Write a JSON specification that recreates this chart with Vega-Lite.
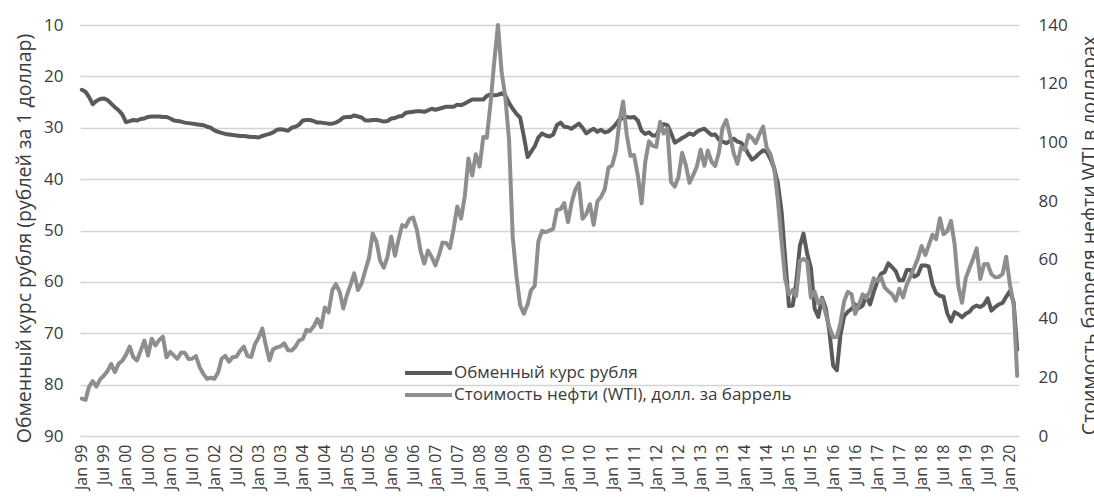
{
  "$schema": "https://vega.github.io/schema/vega-lite/v6.json",
  "width": 939,
  "height": 411,
  "autosize": {"type": "none"},
  "padding": {"left": 80, "top": 25, "right": 75, "bottom": 63},
  "background": "white",
  "config": {
    "font": "Open Sans",
    "view": {"stroke": null},
    "axis": {"labelFont": "Open Sans", "titleFont": "Open Sans", "labelColor": "#3b3b3b", "titleColor": "#3b3b3b", "titleFontWeight": "normal"},
    "legend": {"labelFont": "Open Sans", "labelColor": "#3b3b3b"}
  },
  "data": {"values": [
    {"d":"1999-01-01","r":22.6,"o":12.75},{"d":"1999-02-01","r":23.0,"o":12.27},{"d":"1999-03-01","r":24.0,"o":16.76},{"d":"1999-04-01","r":25.4,"o":18.66},{"d":"1999-05-01","r":24.8,"o":16.84},{"d":"1999-06-01","r":24.4,"o":19.29},{"d":"1999-07-01","r":24.3,"o":20.53},{"d":"1999-08-01","r":24.6,"o":22.10},{"d":"1999-09-01","r":25.3,"o":24.51},{"d":"1999-10-01","r":26.0,"o":21.75},{"d":"1999-11-01","r":26.6,"o":24.59},{"d":"1999-12-01","r":27.4,"o":25.60},
    {"d":"2000-01-01","r":28.9,"o":27.64},{"d":"2000-02-01","r":28.7,"o":30.43},{"d":"2000-03-01","r":28.5,"o":26.90},{"d":"2000-04-01","r":28.6,"o":25.74},{"d":"2000-05-01","r":28.3,"o":29.01},{"d":"2000-06-01","r":28.2,"o":32.50},{"d":"2000-07-01","r":27.9,"o":27.43},{"d":"2000-08-01","r":27.8,"o":33.12},{"d":"2000-09-01","r":27.8,"o":30.84},{"d":"2000-10-01","r":27.8,"o":32.70},{"d":"2000-11-01","r":27.9,"o":33.82},{"d":"2000-12-01","r":27.9,"o":26.80},
    {"d":"2001-01-01","r":28.2,"o":28.66},{"d":"2001-02-01","r":28.6,"o":27.39},{"d":"2001-03-01","r":28.7,"o":26.29},{"d":"2001-04-01","r":28.8,"o":28.46},{"d":"2001-05-01","r":29.0,"o":28.37},{"d":"2001-06-01","r":29.1,"o":26.25},{"d":"2001-07-01","r":29.2,"o":26.35},{"d":"2001-08-01","r":29.3,"o":27.20},{"d":"2001-09-01","r":29.4,"o":23.43},{"d":"2001-10-01","r":29.5,"o":21.18},{"d":"2001-11-01","r":29.8,"o":19.44},{"d":"2001-12-01","r":30.0,"o":19.84},
    {"d":"2002-01-01","r":30.5,"o":19.48},{"d":"2002-02-01","r":30.8,"o":21.74},{"d":"2002-03-01","r":31.0,"o":26.31},{"d":"2002-04-01","r":31.2,"o":27.29},{"d":"2002-05-01","r":31.3,"o":25.31},{"d":"2002-06-01","r":31.4,"o":26.86},{"d":"2002-07-01","r":31.5,"o":27.02},{"d":"2002-08-01","r":31.6,"o":28.98},{"d":"2002-09-01","r":31.6,"o":30.45},{"d":"2002-10-01","r":31.7,"o":27.22},{"d":"2002-11-01","r":31.8,"o":26.89},{"d":"2002-12-01","r":31.8,"o":31.20},
    {"d":"2003-01-01","r":31.9,"o":33.51},{"d":"2003-02-01","r":31.6,"o":36.60},{"d":"2003-03-01","r":31.4,"o":31.04},{"d":"2003-04-01","r":31.2,"o":25.80},{"d":"2003-05-01","r":30.9,"o":29.56},{"d":"2003-06-01","r":30.4,"o":30.19},{"d":"2003-07-01","r":30.3,"o":30.54},{"d":"2003-08-01","r":30.4,"o":31.57},{"d":"2003-09-01","r":30.6,"o":29.20},{"d":"2003-10-01","r":30.0,"o":29.11},{"d":"2003-11-01","r":29.8,"o":30.41},{"d":"2003-12-01","r":29.4,"o":32.52},
    {"d":"2004-01-01","r":28.6,"o":33.05},{"d":"2004-02-01","r":28.5,"o":36.16},{"d":"2004-03-01","r":28.5,"o":35.76},{"d":"2004-04-01","r":28.7,"o":37.38},{"d":"2004-05-01","r":29.0,"o":39.88},{"d":"2004-06-01","r":29.0,"o":37.05},{"d":"2004-07-01","r":29.1,"o":43.80},{"d":"2004-08-01","r":29.2,"o":42.12},{"d":"2004-09-01","r":29.2,"o":49.64},{"d":"2004-10-01","r":29.0,"o":51.76},{"d":"2004-11-01","r":28.6,"o":49.13},{"d":"2004-12-01","r":28.0,"o":43.45},
    {"d":"2005-01-01","r":27.9,"o":48.20},{"d":"2005-02-01","r":27.9,"o":51.75},{"d":"2005-03-01","r":27.6,"o":55.40},{"d":"2005-04-01","r":27.8,"o":49.72},{"d":"2005-05-01","r":28.0,"o":51.97},{"d":"2005-06-01","r":28.6,"o":56.50},{"d":"2005-07-01","r":28.6,"o":60.57},{"d":"2005-08-01","r":28.5,"o":68.94},{"d":"2005-09-01","r":28.5,"o":66.24},{"d":"2005-10-01","r":28.6,"o":59.76},{"d":"2005-11-01","r":28.8,"o":57.32},{"d":"2005-12-01","r":28.7,"o":61.04},
    {"d":"2006-01-01","r":28.2,"o":67.92},{"d":"2006-02-01","r":28.1,"o":61.41},{"d":"2006-03-01","r":27.8,"o":66.63},{"d":"2006-04-01","r":27.7,"o":71.88},{"d":"2006-05-01","r":27.1,"o":71.29},{"d":"2006-06-01","r":27.0,"o":73.93},{"d":"2006-07-01","r":26.9,"o":74.40},{"d":"2006-08-01","r":26.8,"o":70.26},{"d":"2006-09-01","r":26.8,"o":62.91},{"d":"2006-10-01","r":26.9,"o":58.73},{"d":"2006-11-01","r":26.6,"o":63.13},{"d":"2006-12-01","r":26.3,"o":61.05},
    {"d":"2007-01-01","r":26.5,"o":58.14},{"d":"2007-02-01","r":26.3,"o":61.79},{"d":"2007-03-01","r":26.1,"o":65.87},{"d":"2007-04-01","r":25.9,"o":65.71},{"d":"2007-05-01","r":25.9,"o":64.01},{"d":"2007-06-01","r":25.9,"o":70.68},{"d":"2007-07-01","r":25.5,"o":78.21},{"d":"2007-08-01","r":25.6,"o":74.04},{"d":"2007-09-01","r":25.3,"o":81.66},{"d":"2007-10-01","r":24.9,"o":94.53},{"d":"2007-11-01","r":24.5,"o":88.71},{"d":"2007-12-01","r":24.5,"o":95.98},
    {"d":"2008-01-01","r":24.5,"o":91.75},{"d":"2008-02-01","r":24.5,"o":101.84},{"d":"2008-03-01","r":23.8,"o":101.58},{"d":"2008-04-01","r":23.5,"o":113.46},{"d":"2008-05-01","r":23.7,"o":127.35},{"d":"2008-06-01","r":23.6,"o":140.00},{"d":"2008-07-01","r":23.3,"o":124.08},{"d":"2008-08-01","r":23.7,"o":115.46},{"d":"2008-09-01","r":25.2,"o":100.64},{"d":"2008-10-01","r":26.3,"o":67.81},{"d":"2008-11-01","r":27.3,"o":54.43},{"d":"2008-12-01","r":28.0,"o":44.60},
    {"d":"2009-01-01","r":31.7,"o":41.68},{"d":"2009-02-01","r":35.7,"o":44.76},{"d":"2009-03-01","r":34.7,"o":49.66},{"d":"2009-04-01","r":33.6,"o":51.12},{"d":"2009-05-01","r":31.9,"o":66.31},{"d":"2009-06-01","r":31.1,"o":69.89},{"d":"2009-07-01","r":31.5,"o":69.45},{"d":"2009-08-01","r":31.7,"o":69.96},{"d":"2009-09-01","r":31.3,"o":70.61},{"d":"2009-10-01","r":29.5,"o":77.00},{"d":"2009-11-01","r":29.0,"o":77.28},{"d":"2009-12-01","r":29.8,"o":79.36},
    {"d":"2010-01-01","r":29.9,"o":72.89},{"d":"2010-02-01","r":30.2,"o":79.66},{"d":"2010-03-01","r":29.7,"o":83.76},{"d":"2010-04-01","r":29.2,"o":86.15},{"d":"2010-05-01","r":30.0,"o":73.97},{"d":"2010-06-01","r":31.1,"o":75.63},{"d":"2010-07-01","r":30.6,"o":78.95},{"d":"2010-08-01","r":30.2,"o":71.92},{"d":"2010-09-01","r":30.8,"o":79.97},{"d":"2010-10-01","r":30.4,"o":81.43},{"d":"2010-11-01","r":30.9,"o":84.11},{"d":"2010-12-01","r":30.7,"o":91.38},
    {"d":"2011-01-01","r":30.1,"o":92.19},{"d":"2011-02-01","r":29.3,"o":96.97},{"d":"2011-03-01","r":28.4,"o":106.72},{"d":"2011-04-01","r":28.1,"o":113.93},{"d":"2011-05-01","r":27.9,"o":102.70},{"d":"2011-06-01","r":28.0,"o":95.42},{"d":"2011-07-01","r":27.9,"o":95.70},{"d":"2011-08-01","r":28.6,"o":88.81},{"d":"2011-09-01","r":30.6,"o":79.20},{"d":"2011-10-01","r":31.2,"o":93.19},{"d":"2011-11-01","r":30.9,"o":100.36},{"d":"2011-12-01","r":31.5,"o":98.83},
    {"d":"2012-01-01","r":31.5,"o":98.48},{"d":"2012-02-01","r":29.9,"o":107.07},{"d":"2012-03-01","r":29.3,"o":103.02},{"d":"2012-04-01","r":29.5,"o":104.87},{"d":"2012-05-01","r":31.0,"o":86.53},{"d":"2012-06-01","r":32.9,"o":84.96},{"d":"2012-07-01","r":32.5,"o":88.06},{"d":"2012-08-01","r":32.0,"o":96.47},{"d":"2012-09-01","r":31.6,"o":92.19},{"d":"2012-10-01","r":31.1,"o":86.24},{"d":"2012-11-01","r":31.4,"o":88.91},{"d":"2012-12-01","r":30.8,"o":91.82},
    {"d":"2013-01-01","r":30.4,"o":97.49},{"d":"2013-02-01","r":30.2,"o":92.05},{"d":"2013-03-01","r":30.8,"o":97.23},{"d":"2013-04-01","r":31.4,"o":93.46},{"d":"2013-05-01","r":31.3,"o":91.97},{"d":"2013-06-01","r":32.3,"o":96.56},{"d":"2013-07-01","r":32.7,"o":105.03},{"d":"2013-08-01","r":33.0,"o":107.65},{"d":"2013-09-01","r":32.6,"o":102.33},{"d":"2013-10-01","r":32.1,"o":96.38},{"d":"2013-11-01","r":32.7,"o":92.72},{"d":"2013-12-01","r":32.9,"o":98.42},
    {"d":"2014-01-01","r":33.8,"o":97.49},{"d":"2014-02-01","r":35.2,"o":102.59},{"d":"2014-03-01","r":36.2,"o":101.58},{"d":"2014-04-01","r":35.7,"o":99.74},{"d":"2014-05-01","r":35.0,"o":102.71},{"d":"2014-06-01","r":34.4,"o":105.37},{"d":"2014-07-01","r":34.7,"o":98.17},{"d":"2014-08-01","r":36.1,"o":95.96},{"d":"2014-09-01","r":37.9,"o":91.16},{"d":"2014-10-01","r":40.8,"o":80.54},{"d":"2014-11-01","r":46.3,"o":66.15},{"d":"2014-12-01","r":55.6,"o":53.27},
    {"d":"2015-01-01","r":64.7,"o":48.24},{"d":"2015-02-01","r":64.6,"o":49.76},{"d":"2015-03-01","r":60.3,"o":47.60},{"d":"2015-04-01","r":53.0,"o":59.63},{"d":"2015-05-01","r":50.6,"o":60.30},{"d":"2015-06-01","r":54.6,"o":59.47},{"d":"2015-07-01","r":57.2,"o":47.12},{"d":"2015-08-01","r":65.2,"o":49.20},{"d":"2015-09-01","r":66.8,"o":45.09},{"d":"2015-10-01","r":63.1,"o":46.59},{"d":"2015-11-01","r":65.1,"o":41.65},{"d":"2015-12-01","r":69.7,"o":37.04},
    {"d":"2016-01-01","r":76.3,"o":33.62},{"d":"2016-02-01","r":77.2,"o":33.75},{"d":"2016-03-01","r":70.4,"o":38.34},{"d":"2016-04-01","r":66.7,"o":45.92},{"d":"2016-05-01","r":65.8,"o":49.10},{"d":"2016-06-01","r":65.3,"o":48.33},{"d":"2016-07-01","r":64.4,"o":41.60},{"d":"2016-08-01","r":65.1,"o":44.70},{"d":"2016-09-01","r":64.6,"o":48.24},{"d":"2016-10-01","r":62.7,"o":46.86},{"d":"2016-11-01","r":64.4,"o":49.44},{"d":"2016-12-01","r":62.0,"o":53.72},
    {"d":"2017-01-01","r":59.9,"o":52.81},{"d":"2017-02-01","r":58.4,"o":54.01},{"d":"2017-03-01","r":58.1,"o":50.60},{"d":"2017-04-01","r":56.4,"o":49.33},{"d":"2017-05-01","r":57.1,"o":48.32},{"d":"2017-06-01","r":57.9,"o":46.04},{"d":"2017-07-01","r":59.7,"o":50.17},{"d":"2017-08-01","r":59.7,"o":47.23},{"d":"2017-09-01","r":57.7,"o":51.67},{"d":"2017-10-01","r":57.7,"o":54.38},{"d":"2017-11-01","r":59.0,"o":57.40},{"d":"2017-12-01","r":58.6,"o":60.42},
    {"d":"2018-01-01","r":56.8,"o":64.73},{"d":"2018-02-01","r":56.8,"o":61.64},{"d":"2018-03-01","r":57.0,"o":64.94},{"d":"2018-04-01","r":60.5,"o":68.57},{"d":"2018-05-01","r":62.2,"o":67.04},{"d":"2018-06-01","r":62.7,"o":74.15},{"d":"2018-07-01","r":62.9,"o":68.76},{"d":"2018-08-01","r":66.1,"o":69.80},{"d":"2018-09-01","r":67.7,"o":73.25},{"d":"2018-10-01","r":65.9,"o":65.31},{"d":"2018-11-01","r":66.3,"o":50.93},{"d":"2018-12-01","r":66.9,"o":45.41},
    {"d":"2019-01-01","r":66.2,"o":53.79},{"d":"2019-02-01","r":65.8,"o":57.22},{"d":"2019-03-01","r":65.0,"o":60.14},{"d":"2019-04-01","r":64.6,"o":63.91},{"d":"2019-05-01","r":64.9,"o":53.50},{"d":"2019-06-01","r":64.4,"o":58.47},{"d":"2019-07-01","r":63.2,"o":58.58},{"d":"2019-08-01","r":65.6,"o":55.10},{"d":"2019-09-01","r":64.9,"o":54.07},{"d":"2019-10-01","r":64.4,"o":54.18},{"d":"2019-11-01","r":64.1,"o":55.17},{"d":"2019-12-01","r":62.9,"o":61.06},
    {"d":"2020-01-01","r":61.8,"o":51.56},{"d":"2020-02-01","r":64.0,"o":44.76},{"d":"2020-03-01","r":73.2,"o":20.48}
  ]},
  "encoding": {
    "x": {
      "field": "d", "type": "temporal",
      "scale": {"type": "utc", "domain": [{"year": 1998, "month": 12, "date": 17, "utc": true}, {"year": 2020, "month": 3, "date": 16, "utc": true}]},
      "axis": {"title": null, "tickCount": {"interval": "month", "step": 6}, "labelExpr": "utcFormat(datum.value, '%b %y')", "labelAngle": -90, "labelFontSize": 16, "labelOverlap": false, "labelBound": false, "labelFlush": false, "ticks": false, "domain": false, "grid": false, "labelPadding": 8}
    }
  },
  "layer": [
    {
      "mark": {"type": "line", "strokeWidth": 4, "strokeJoin": "round", "strokeCap": "round"},
      "encoding": {
        "y": {"field": "r", "type": "quantitative", "scale": {"domain": [10, 90], "reverse": true, "nice": false, "zero": false},
          "axis": {"orient": "left", "values": [10, 20, 30, 40, 50, 60, 70, 80, 90], "grid": true, "gridColor": "#d4d4d4", "gridWidth": 1.5, "domain": false, "ticks": false, "labelPadding": 17, "labelFontSize": 17, "title": "Обменный курс рубля (рублей за 1 доллар)", "titleFontSize": 19.5, "titlePadding": 9, "titleY": 213}},
        "color": {"datum": "Обменный курс рубля", "type": "nominal",
          "scale": {"domain": ["Обменный курс рубля", "Стоимость нефти (WTI), долл. за баррель"], "range": ["#5a5a5a", "#8e8e8e"]},
          "legend": {"orient": "none", "legendX": 323, "legendY": 337, "title": null, "symbolType": "stroke", "symbolStrokeWidth": 4, "symbolSize": 2200, "clipHeight": 22, "labelFontSize": 17, "labelOffset": 0, "labelLimit": 600, "rowPadding": 0}}
      }
    },
    {
      "mark": {"type": "line", "strokeWidth": 4, "strokeJoin": "round", "strokeCap": "round"},
      "encoding": {
        "y": {"field": "o", "type": "quantitative", "scale": {"domain": [0, 140], "nice": false},
          "axis": {"orient": "right", "values": [0, 20, 40, 60, 80, 100, 120, 140], "grid": false, "domain": false, "ticks": false, "labelPadding": 19, "labelFontSize": 17, "title": "Стоимость барреля нефти WTI в долларах", "titleFontSize": 19.5, "titleAngle": 270, "titlePadding": 32, "titleY": 210}},
        "color": {"datum": "Стоимость нефти (WTI), долл. за баррель", "type": "nominal"}
      }
    }
  ],
  "resolve": {"scale": {"y": "independent"}}
}
